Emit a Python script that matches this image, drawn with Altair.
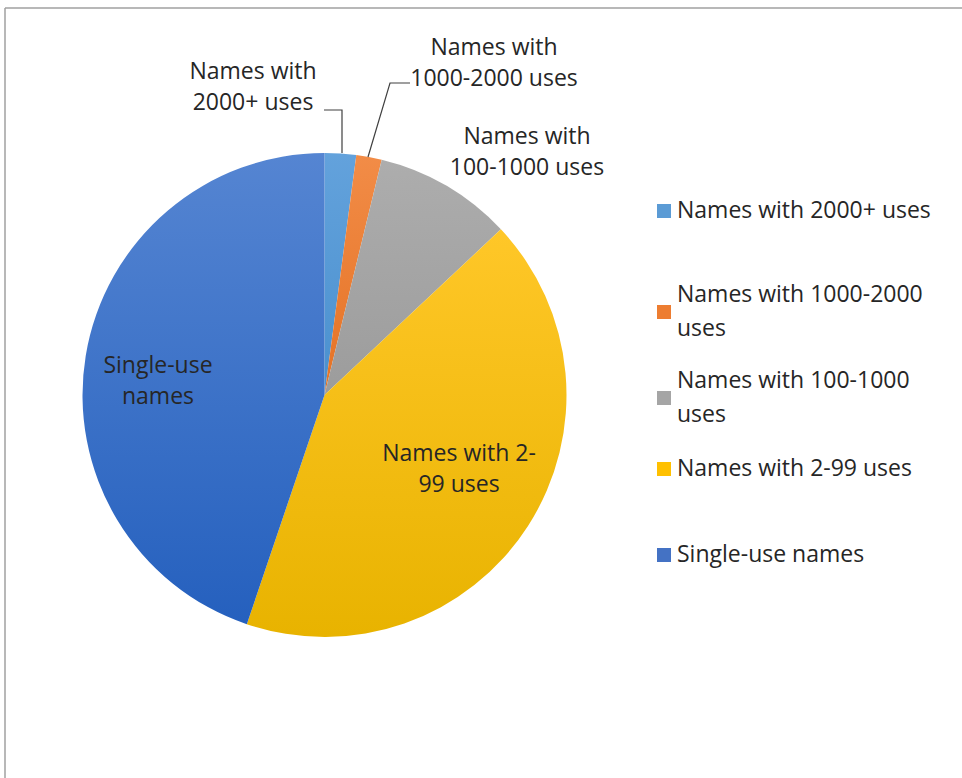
import altair as alt
import pandas as pd
import math

# ---- data ----
categories = ["Names with 2000+ uses", "Names with 1000-2000 uses",
              "Names with 100-1000 uses", "Names with 2-99 uses", "Single-use names"]
shares = [2.1, 1.7, 9.2, 42.2, 44.8]
colors = ["#5B9BD5", "#ED7D31", "#A5A5A5", "#FFC000", "#4472C4"]
grad_top = ["#63A2DC", "#F28C47", "#ADADAD", "#FFC728", "#5585D2"]
grad_bot = ["#4A90CE", "#E47225", "#9C9C9C", "#E8B300", "#2560BE"]
slice_labels = ["Names with\n2000+ uses", "Names with\n1000-2000 uses",
                "Names with\n100-1000 uses", "Names with 2-\n99 uses", "Single-use\nnames"]
legend_labels = ["Names with 2000+ uses", "Names with 1000-2000\nuses",
                 "Names with 100-1000\nuses", "Names with 2-99 uses", "Single-use names"]

# ---- layout (pixels) ----
W, H = 962, 778
CX, CY, R = 324.5, 395, 242
FONT = "Open Sans"
FS = 23
TXT = "#262626"
label_pos = [(253, 72), (494, 48), (527, 137), (459, 454), (158, 366)]
legend_y = [211, 312, 398, 469, 555]

df = pd.DataFrame({"category": categories, "share": shares,
                   "order": list(range(len(categories)))})

theta_scale = alt.Scale(domain=[0, sum(shares)], range=[0, 2 * math.pi])
base = alt.Chart(df).transform_window(
    cum="sum(share)", sort=[alt.SortField("order")]
).transform_calculate(start="datum.cum - datum.share")

slices = []
for cat, c0, c1 in zip(categories, grad_top, grad_bot):
    grad = {"gradient": "linear", "x1": 0, "y1": 0, "x2": 0, "y2": 1,
            "stops": [{"offset": 0, "color": c0}, {"offset": 1, "color": c1}]}
    slices.append(
        base.transform_filter(alt.datum.category == cat).mark_arc(
            outerRadius=R, fill=grad, strokeWidth=0
        ).encode(
            theta=alt.Theta("start:Q", scale=theta_scale),
            theta2="cum:Q",
            x=alt.value(CX), y=alt.value(CY),
        )
    )

lab_df = pd.DataFrame({"text": slice_labels,
                       "px": [p[0] for p in label_pos], "py": [p[1] for p in label_pos]})
px_x = alt.Scale(domain=[0, W], range=[0, W])
px_y = alt.Scale(domain=[0, H], range=[0, H])

labels = alt.Chart(lab_df).mark_text(
    font=FONT, fontSize=FS, color=TXT, lineBreak="\n", lineHeight=31,
    align="center", baseline="middle",
).encode(
    x=alt.X("px:Q", scale=px_x, axis=None),
    y=alt.Y("py:Q", scale=px_y, axis=None),
    text="text:N",
)

# leader lines
lead_df = pd.DataFrame({
    "seg": ["a", "a", "a", "b", "b", "b"],
    "i": [0, 1, 2, 0, 1, 2],
    "lx": [324, 342, 342, 410, 390, 368],
    "ly": [110, 110, 153, 83, 83, 157],
})
leaders = alt.Chart(lead_df).mark_line(color="#404040", strokeWidth=1.2).encode(
    x=alt.X("lx:Q", scale=px_x, axis=None),
    y=alt.Y("ly:Q", scale=px_y, axis=None),
    detail="seg:N", order="i:Q",
)

leg_df = pd.DataFrame({"category": categories, "text": legend_labels, "ly": legend_y})
leg_sq = alt.Chart(leg_df).mark_square(size=196, opacity=1).encode(
    x=alt.value(664),
    y=alt.Y("ly:Q", scale=px_y, axis=None),
    color=alt.Color("category:N", scale=alt.Scale(domain=categories, range=colors), legend=None),
)
leg_df["ty"] = [y if "\n" not in t else y - 17 for y, t in zip(legend_y, legend_labels)]
leg_tx = alt.Chart(leg_df).mark_text(
    font=FONT, fontSize=FS, color=TXT, lineBreak="\n", lineHeight=34,
    align="left", baseline="middle",
).encode(
    x=alt.value(677),
    y=alt.Y("ty:Q", scale=px_y, axis=None),
    text="text:N",
)

frame_top = alt.Chart(pd.DataFrame({"a": [0]})).mark_rule(color="#a0a0a0", strokeWidth=1.5).encode(
    x=alt.value(5), x2=alt.value(W), y=alt.value(8))
frame_left = alt.Chart(pd.DataFrame({"a": [0]})).mark_rule(color="#a0a0a0", strokeWidth=1.5).encode(
    x=alt.value(5), y=alt.value(8), y2=alt.value(H))

chart = alt.layer(frame_top, frame_left, *slices, leaders, labels, leg_sq, leg_tx).properties(
    width=W, height=H, padding=0, autosize=alt.AutoSizeParams(type="none"),
    background="white",
).configure_view(stroke=None)

chart.save("out.html", embed_options={"renderer": "svg", "actions": False})
